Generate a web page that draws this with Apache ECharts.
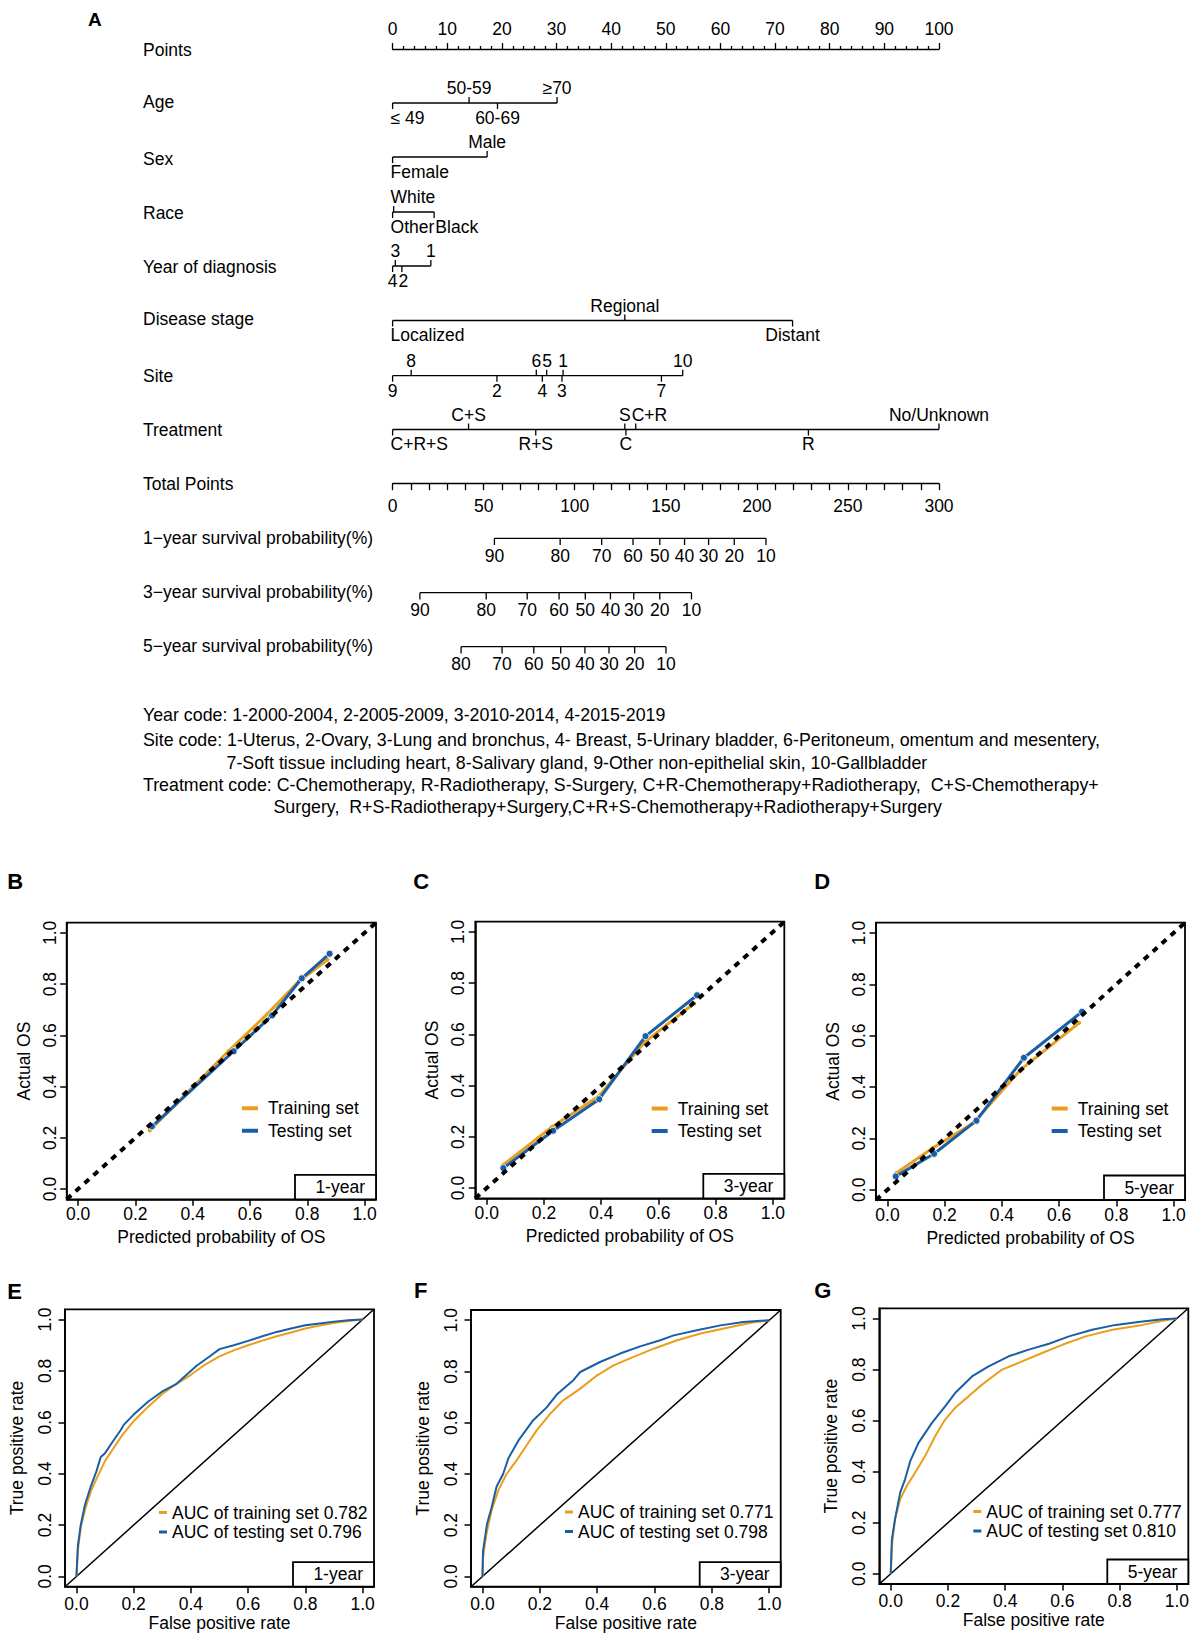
<!DOCTYPE html>
<html><head><meta charset="utf-8">
<script src="https://cdn.jsdelivr.net/npm/echarts@6/dist/echarts.min.js"></script>
<style>html,body{margin:0;padding:0;background:#fff}#c{width:1195px;height:1637px}</style>
</head><body><div id="c"></div>
<script>
// ================= DATA =================
// Nomogram: row names
const rowNames = ['Points','Age','Sex','Race','Year of diagnosis','Disease stage','Site','Treatment','Total Points',
  '1\u2212year survival probability(%)','3\u2212year survival probability(%)','5\u2212year survival probability(%)'];
// categorical rows (labels and their points on the 0-100 Points scale)
const ageLabels = ['\u2264 49','50-59','60-69','\u226570'];
const agePoints = [0, 14.0, 19.2, 30.1];
const sexLabels = ['Female','Male'];
const sexPoints = [0, 17.3];
const raceLabels = ['Other','White','Black'];
const racePoints = [0, 0.2, 7.6];
const yearLabels = ['4','3','2','1'];
const yearPoints = [0, 0.5, 1.7, 7.0];
const stageLabels = ['Localized','Regional','Distant'];
const stagePoints = [0, 42.5, 73.2];
const siteLabels = ['9','8','2','6','4','5','3','1','7','10'];
const sitePoints = [0, 3.4, 19.1, 26.3, 27.4, 28.2, 31.0, 31.2, 49.2, 53.1];
const treatLabels = ['C+R+S','C+S','R+S','S','C','C+R','R','No/Unknown'];
const treatPoints = [0, 13.9, 26.2, 42.5, 42.7, 44.5, 76.1, 100];
// survival probability scales (labels and positions on the 0-300 Total Points scale)
const surv1Labels = ['90','80','70','60','50','40','30','20','10'];
const surv1Total = [55.9, 92.0, 114.8, 132.0, 146.7, 160.3, 173.5, 187.6, 205.0];
const surv3Labels = ['90','80','70','60','50','40','30','20','10'];
const surv3Total = [15.0, 51.4, 73.9, 91.4, 105.8, 119.6, 132.4, 146.7, 164.1];
const surv5Labels = ['80','70','60','50','40','30','20','10'];
const surv5Total = [37.6, 60.1, 77.5, 92.3, 105.6, 118.8, 132.9, 150.1];
const pointsMax = 100, totalMax = 300;
const notes = [
  'Year code: 1-2000-2004, 2-2005-2009, 3-2010-2014, 4-2015-2019',
  'Site code: 1-Uterus, 2-Ovary, 3-Lung and bronchus, 4- Breast, 5-Urinary bladder, 6-Peritoneum, omentum and mesentery,',
  '7-Soft tissue including heart, 8-Salivary gland, 9-Other non-epithelial skin, 10-Gallbladder',
  'Treatment code: C-Chemotherapy, R-Radiotherapy, S-Surgery, C+R-Chemotherapy+Radiotherapy,  C+S-Chemotherapy+',
  'Surgery,  R+S-Radiotherapy+Surgery,C+R+S-Chemotherapy+Radiotherapy+Surgery'
];
// Calibration curves (predicted, actual)
const calB_trainX = [0.25, 0.526, 0.66, 0.77, 0.87];
const calB_trainY = [0.229, 0.54, 0.683, 0.81, 0.895];
const calB_testX = [0.258, 0.543, 0.677, 0.781, 0.878];
const calB_testY = [0.245, 0.538, 0.678, 0.823, 0.919];
const calC_trainX = [0.058, 0.227, 0.39, 0.553, 0.725];
const calC_trainY = [0.091, 0.238, 0.357, 0.571, 0.721];
const calC_testX = [0.058, 0.232, 0.393, 0.555, 0.735];
const calC_testY = [0.078, 0.224, 0.347, 0.593, 0.753];
const calD_trainX = [0.031, 0.155, 0.30, 0.468, 0.67];
const calD_trainY = [0.065, 0.16, 0.26, 0.47, 0.65];
const calD_testX = [0.029, 0.163, 0.311, 0.477, 0.68];
const calD_testY = [0.052, 0.14, 0.269, 0.514, 0.693];
// ROC curves (FPR, TPR)
const rocE_trainFPR = [0,0.005,0.015,0.03,0.05,0.07,0.1,0.13,0.16,0.2,0.25,0.3,0.35,0.4,0.45,0.5,0.55,0.6,0.65,0.7,0.75,0.8,0.85,0.9,0.95,1];
const rocE_trainTPR = [0,0.1,0.19,0.26,0.33,0.38,0.45,0.5,0.55,0.605,0.66,0.71,0.75,0.785,0.825,0.857,0.88,0.9,0.918,0.935,0.95,0.965,0.977,0.987,0.994,1];
const rocE_testFPR = [0,0.005,0.015,0.03,0.05,0.07,0.085,0.1,0.13,0.155,0.165,0.2,0.25,0.3,0.35,0.38,0.42,0.47,0.5,0.55,0.6,0.65,0.7,0.75,0.8,0.85,0.9,0.95,1];
const rocE_testTPR = [0,0.12,0.2,0.28,0.35,0.41,0.465,0.48,0.53,0.57,0.59,0.63,0.68,0.72,0.75,0.78,0.82,0.86,0.885,0.9,0.917,0.935,0.952,0.965,0.978,0.985,0.992,0.997,1];
const rocF_trainFPR = [0,0.002,0.014,0.032,0.055,0.084,0.119,0.154,0.189,0.236,0.282,0.341,0.4,0.457,0.527,0.597,0.679,0.761,0.854,0.936,1];
const rocF_trainTPR = [0,0.075,0.167,0.258,0.336,0.4,0.453,0.512,0.57,0.635,0.6875,0.733,0.785,0.824,0.857,0.889,0.922,0.948,0.971,0.99,1];
const rocF_testFPR = [0,0.002,0.016,0.032,0.049,0.072,0.09,0.125,0.177,0.224,0.259,0.317,0.341,0.41,0.48,0.55,0.62,0.667,0.76,0.83,0.91,1];
const rocF_testTPR = [0,0.1,0.206,0.27,0.35,0.4,0.46,0.53,0.61,0.66,0.71,0.766,0.798,0.837,0.87,0.898,0.922,0.941,0.964,0.98,0.993,1];
const rocG_trainFPR = [0,0.004,0.015,0.033,0.056,0.085,0.12,0.155,0.19,0.225,0.272,0.319,0.389,0.459,0.529,0.6,0.681,0.775,0.88,0.95,1];
const rocG_trainTPR = [0,0.109,0.214,0.292,0.344,0.396,0.461,0.539,0.604,0.65,0.695,0.741,0.8,0.832,0.865,0.897,0.93,0.956,0.975,0.991,1];
const rocG_testFPR = [0,0.004,0.015,0.033,0.05,0.068,0.097,0.144,0.19,0.225,0.284,0.342,0.412,0.482,0.553,0.623,0.704,0.786,0.88,0.95,1];
const rocG_testTPR = [0,0.135,0.214,0.318,0.37,0.441,0.513,0.591,0.656,0.708,0.773,0.8125,0.852,0.878,0.901,0.93,0.956,0.975,0.988,0.997,1];
const aucE = ['0.782','0.796'], aucF = ['0.771','0.798'], aucG = ['0.777','0.810'];
const axisTicks01 = [0, 0.2, 0.4, 0.6, 0.8, 1.0];

// ================= LAYOUT / STYLE =================
const FONT = '"Liberation Sans", Arial, sans-serif';
const FS = 17.5;
const ORANGE = '#EA9E1C', BLUE = '#1A5EA6';
const NL = 392.6, NW = 546.4;
const rowNameY = [50.1, 102.3, 158.7, 213, 267.2, 319.4, 375.8, 430, 484.3, 537.6, 591.9, 646.1];
const rowLineY = [49, 103, 157, 212, 266, 320.5, 375.7, 429.5, 483.5, 538.3, 592.7, 646.7];
const noteX = [143, 143, 226.5, 143, 273.5];
const noteY = [715, 740, 763, 785, 807];
const AXMIN = -0.04, AXMAX = 1.04;

const grids = [], xAxes = [], yAxes = [], series = [], graphics = [], legends = [];
const mctx = document.createElement('canvas').getContext('2d');
function textWidth(t){ mctx.font = FS + 'px ' + FONT; return mctx.measureText(t).width; }
function gtext(x, y, text, font, align){
  graphics.push({type:'text', x:x, y:y, silent:true, z:50,
    style:{text:text, fill:'#000', font:font || (FS + 'px ' + FONT), align:align||'left', textAlign:align||'left',
      verticalAlign:'middle', textVerticalAlign:'middle'}});
}

// ---------- Nomogram ----------
const rowDefs = [
  null,
  {labels:ageLabels, values:agePoints, mode:'alt', max:pointsMax},
  {labels:sexLabels, values:sexPoints, mode:'alt', max:pointsMax},
  {labels:raceLabels, values:racePoints, mode:'alt', max:pointsMax},
  {labels:yearLabels, values:yearPoints, mode:'alt', max:pointsMax},
  {labels:stageLabels, values:stagePoints, mode:'alt', max:pointsMax},
  {labels:siteLabels, values:sitePoints, mode:'alt', max:pointsMax},
  {labels:treatLabels, values:treatPoints, mode:'alt', max:pointsMax},
  null,
  {labels:surv1Labels, values:surv1Total, mode:'below', max:totalMax},
  {labels:surv3Labels, values:surv3Total, mode:'below', max:totalMax},
  {labels:surv5Labels, values:surv5Total, mode:'below', max:totalMax}
];

function makeRender(def){
  const tick = def.mode === 'alt' ? 6 : 6.7;
  const off = def.mode === 'alt' ? 14.8 : 17.7;
  return function(params, api){
    const n = def.values.length;
    const pts = def.values.map(v => api.coord([v, 0]));
    const x0 = api.coord([0, 0])[0];
    const order = def.values.map((v, i) => i).sort((a, b) => (def.values[a] - def.values[b]) || (a - b));
    const side = new Array(n);
    order.forEach((idx, k) => { side[idx] = def.mode === 'alt' ? (k % 2 === 0 ? -1 : 1) : -1; });
    const left = new Array(n);
    const prevRight = {'1': -Infinity, '-1': -Infinity};
    order.forEach(idx => {
      const lab = def.labels[idx];
      const w = textWidth(lab);
      let l = pts[idx][0] - w / 2;
      if (l < x0 - 5) l = x0 - 2;
      if (l < prevRight[side[idx]] + 1) l = prevRight[side[idx]] + 1;
      left[idx] = l; prevRight[side[idx]] = l + w;
    });
    const i = params.dataIndex, p = pts[i], s = side[i];
    return {type:'group', children:[
      {type:'line', shape:{x1:p[0], y1:p[1], x2:p[0], y2:p[1] - s * tick}, style:{stroke:'#000', lineWidth:1.3}},
      {type:'text', x:left[i], y:p[1] - s * off,
        style:{text:def.labels[i], fill:'#000', font:FS + 'px ' + FONT, align:'left', textAlign:'left', verticalAlign:'middle', textVerticalAlign:'middle'}}
    ]};
  };
}

rowNames.forEach((nm, i) => {
  gtext(143, rowNameY[i], nm);
  const gi = grids.length;
  if (i === 0) {
    grids.push({left:NL, width:NW, top:rowLineY[i], height:20, outerBoundsMode:'none'});
    xAxes.push({gridIndex:gi, type:'value', min:0, max:pointsMax, interval:10, position:'top',
      axisLine:{show:true, onZero:false, lineStyle:{color:'#000', width:1.3}},
      axisTick:{show:true, length:6, lineStyle:{color:'#000', width:1.3}},
      minorTick:{show:true, splitNumber:5, length:3, lineStyle:{color:'#000', width:1.3}},
      splitLine:{show:false}, minorSplitLine:{show:false},
      axisLabel:{margin:11, fontSize:FS, color:'#000', fontFamily:FONT}});
    yAxes.push({gridIndex:gi, type:'value', min:-1, max:1, show:false});
  } else if (i === 8) {
    grids.push({left:NL, width:NW, top:rowLineY[i] - 20, height:20, outerBoundsMode:'none'});
    xAxes.push({gridIndex:gi, type:'value', min:0, max:totalMax, interval:10, position:'bottom',
      axisLine:{show:true, onZero:false, lineStyle:{color:'#000', width:1.3}},
      axisTick:{show:true, length:6.7, lineStyle:{color:'#000', width:1.3}},
      splitLine:{show:false},
      axisLabel:{margin:13.75, fontSize:FS, color:'#000', fontFamily:FONT, formatter:v => (v % 50 === 0 ? String(v) : '')}});
    yAxes.push({gridIndex:gi, type:'value', min:-1, max:1, show:false});
  } else {
    const def = rowDefs[i];
    grids.push({left:NL, width:NW, top:rowLineY[i] - 10, height:20, outerBoundsMode:'none'});
    xAxes.push({gridIndex:gi, type:'value', min:0, max:def.max, show:false});
    yAxes.push({gridIndex:gi, type:'value', min:-1, max:1, show:false});
    const vmin = Math.min.apply(null, def.values), vmax = Math.max.apply(null, def.values);
    series.push({type:'line', xAxisIndex:gi, yAxisIndex:gi, data:[[vmin, 0], [vmax, 0]], symbol:'none', silent:true,
      lineStyle:{color:'#000', width:1.3}, clip:false});
    series.push({type:'custom', xAxisIndex:gi, yAxisIndex:gi, data:def.values.map(v => [v, 0]), renderItem:makeRender(def), silent:true, clip:false});
  }
});
gtext(88, 19, 'A', 'bold 19px ' + FONT);
notes.forEach((t, i) => gtext(noteX[i], noteY[i], t, '17.8px ' + FONT));

// ---------- Panels ----------
const CAL_M = {xLab:6, yLab:8, xName:29, yName:34};
const ROC_M = {xLab:8, yLab:11, xName:27, yName:39};
const zip = (a, b) => a.map((v, i) => [v, b[i]]);
const panels = [
  {letter:'B', lx:7.3, ly:881.7, g:[66.7, 922.7, 309.3, 276.6], kind:'cal', tag:'1-year',
    tr:zip(calB_trainX, calB_trainY), te:zip(calB_testX, calB_testY), lg:[242, 1099.25]},
  {letter:'C', lx:413.3, ly:881.7, g:[475.3, 921.7, 309, 276.6], kind:'cal', tag:'3-year',
    tr:zip(calC_trainX, calC_trainY), te:zip(calC_testX, calC_testY), lg:[651.7, 1099.5]},
  {letter:'D', lx:814.3, ly:881.7, g:[876, 922.7, 309, 277.3], kind:'cal', tag:'5-year',
    tr:zip(calD_trainX, calD_trainY), te:zip(calD_testX, calD_testY), lg:[1051.7, 1099.5]},
  {letter:'E', lx:7.3, ly:1291.7, g:[65, 1309.3, 309, 277.4], kind:'roc', tag:'1-year',
    tr:zip(rocE_trainFPR, rocE_trainTPR), te:zip(rocE_testFPR, rocE_testTPR), auc:aucE, lg:[159, 1503.5]},
  {letter:'F', lx:414, ly:1290, g:[471, 1310, 309.7, 276.7], kind:'roc', tag:'3-year',
    tr:zip(rocF_trainFPR, rocF_trainTPR), te:zip(rocF_testFPR, rocF_testTPR), auc:aucF, lg:[565, 1503]},
  {letter:'G', lx:814.3, ly:1290, g:[879.3, 1308.3, 309, 275.7], kind:'roc', tag:'5-year',
    tr:zip(rocG_trainFPR, rocG_trainTPR), te:zip(rocG_testFPR, rocG_testTPR), auc:aucG, lg:[973.3, 1502.5]}
];

panels.forEach(p => {
  const gi = grids.length;
  const cal = p.kind === 'cal';
  const m = cal ? CAL_M : ROC_M;
  grids.push({left:p.g[0], top:p.g[1], width:p.g[2], height:p.g[3], show:true, borderColor:'#000', borderWidth:1.8,
    backgroundColor:'rgba(0,0,0,0)', outerBoundsMode:'none'});
  const common = {gridIndex:gi, type:'value', min:AXMIN, max:AXMAX, nameLocation:'middle', nameMoveOverlap:false,
    nameTextStyle:{fontSize:FS, color:'#000', fontFamily:FONT},
    axisLine:{show:true, onZero:false, lineStyle:{color:'#000', width:1.5}},
    axisTick:{show:true, inside:false, length:6.5, customValues:axisTicks01, lineStyle:{color:'#000', width:1.5}},
    splitLine:{show:false}, minorTick:{show:false}};
  xAxes.push(Object.assign({}, common, {position:'bottom', name: cal ? 'Predicted probability of OS' : 'False positive rate',
    nameGap:m.xName,
    axisLabel:{customValues:axisTicks01, formatter:v => v.toFixed(1), margin:m.xLab, fontSize:FS, color:'#000', fontFamily:FONT}}));
  yAxes.push(Object.assign({}, common, {position:'left', name: cal ? 'Actual OS' : 'True positive rate',
    nameGap:m.yName, nameRotate:90,
    axisLabel:{customValues:axisTicks01, formatter:v => v.toFixed(1), rotate:90, margin:m.yLab, fontSize:FS, color:'#000', fontFamily:FONT}}));
  const trName = cal ? 'Training set' : 'AUC of training set ' + p.auc[0];
  const teName = cal ? 'Testing set' : 'AUC of testing set ' + p.auc[1];
  const diag = {type:'line', xAxisIndex:gi, yAxisIndex:gi, data:[[AXMIN, AXMIN], [AXMAX, AXMAX]], symbol:'none', silent:true,
    lineStyle: cal ? {color:'#000', width:4, type:[6, 6], cap:'butt'} : {color:'#000', width:1.5}, z: cal ? 5 : 1};
  if (!cal) series.push(diag);
  series.push({type:'line', name:trName, xAxisIndex:gi, yAxisIndex:gi, data:p.tr, color:ORANGE,
    symbol: cal ? 'circle' : 'none', symbolSize:4, showSymbol:cal,
    itemStyle:{color:ORANGE}, lineStyle:{color:ORANGE, width: cal ? 3 : 2}, z:2});
  series.push({type:'line', name:teName, xAxisIndex:gi, yAxisIndex:gi, data:p.te, color:BLUE,
    symbol: cal ? 'circle' : 'none', symbolSize:7, showSymbol:cal,
    itemStyle:{color:BLUE, borderColor:'#dfe8f3', borderWidth:1}, lineStyle:{color:BLUE, width: cal ? 3 : 2}, z:3});
  if (cal) series.push(diag);
  legends.push({orient:'vertical', left:p.lg[0], top:p.lg[1], padding:0, selectedMode:false,
    itemWidth: cal ? 16 : 8, itemHeight: cal ? 4 : 3, itemGap: cal ? 4.5 : 1.5, icon:'rect',
    itemStyle:{borderWidth:0},
    data:[{name:trName, itemStyle:{color:ORANGE, borderWidth:0}}, {name:teName, itemStyle:{color:BLUE, borderWidth:0}}],
    textStyle:{fontSize:FS, color:'#000', fontFamily:FONT, padding: cal ? [0, 0, 0, 5] : 0}});
  // tag box
  const bw = 81, bh = 24.5;
  const gx2 = p.g[0] + p.g[2], gy2 = p.g[1] + p.g[3];
  graphics.push({type:'rect', silent:true, z:40, shape:{x:gx2 - bw, y:gy2 - bh, width:bw, height:bh},
    style:{fill:'#fff', stroke:'#000', lineWidth:1.8}});
  gtext(gx2 - 11, gy2 - bh / 2, p.tag, null, 'right');
  gtext(p.lx, p.ly, p.letter, 'bold 22px ' + FONT);
});

const chart = echarts.init(document.getElementById('c'), null, {renderer:'svg', width:1195, height:1637});
chart.setOption({
  animation:false, backgroundColor:'#fff', textStyle:{fontFamily:FONT},
  grid:grids, xAxis:xAxes, yAxis:yAxes, series:series, legend:legends, graphic:graphics
});
</script></body></html>
